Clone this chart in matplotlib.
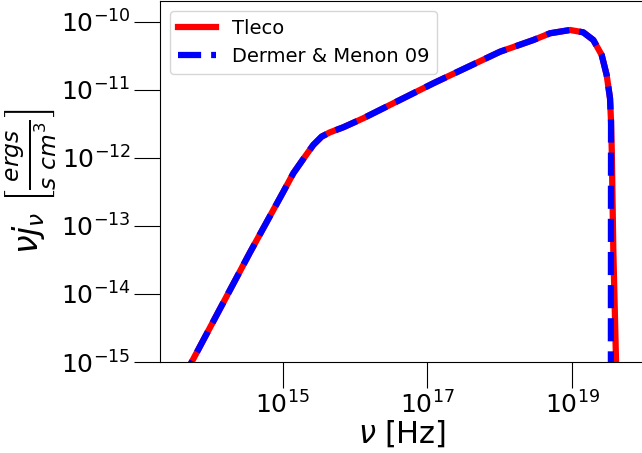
import matplotlib
matplotlib.use('Agg')
import matplotlib.pyplot as plt
from matplotlib.ticker import NullLocator

# values (Hz, erg s^-1 cm^-3)
nu_tleco = [3.98e13, 5.52e13, 3.53e14, 1.019e15, 1.403e15, 2.03e15, 2.65e15,
            3.46e15, 4.51e15, 6.89e15, 1.30e16, 1.21e17, 1.01e18, 2.92e18,
            4.97e18, 9.40e18, 1.43e19, 1.97e19, 2.57e19, 3.01e19, 3.35e19,
            3.46e19, 3.54e19, 3.72e19, 4.06e19, 4.17e19]
nuj_tleco = [5.2e-16, 1.0e-15, 4.07e-14, 3.16e-13, 5.93e-13, 1.04e-12, 1.545e-12,
             2.05e-12, 2.37e-12, 2.81e-12, 3.81e-12, 1.245e-11, 3.62e-11, 5.38e-11,
             6.76e-11, 7.55e-11, 6.98e-11, 5.38e-11, 3.24e-11, 1.65e-11, 7.50e-12,
             3.40e-12, 1.30e-12, 4.43e-14, 1.0e-15, 1.0e-16]

nu_dm = [3.98e13, 5.52e13, 3.53e14, 1.019e15, 1.403e15, 2.03e15, 2.65e15,
         3.46e15, 4.51e15, 6.89e15, 1.30e16, 1.21e17, 1.01e18, 2.92e18,
         4.97e18, 9.40e18, 1.43e19, 1.97e19, 2.57e19, 3.01e19, 3.35e19,
         3.46e19, 3.45e19, 3.44e19]
nuj_dm = [5.2e-16, 1.0e-15, 4.07e-14, 3.16e-13, 5.93e-13, 1.04e-12, 1.545e-12,
          2.05e-12, 2.37e-12, 2.81e-12, 3.81e-12, 1.245e-11, 3.62e-11, 5.38e-11,
          6.76e-11, 7.55e-11, 6.98e-11, 5.38e-11, 3.24e-11, 1.65e-11, 7.50e-12,
          3.40e-12, 1.0e-13, 1.0e-16]

x_ticks = [1e15, 1e17, 1e19]
y_ticks = [1e-15, 1e-14, 1e-13, 1e-12, 1e-11, 1e-10]

fig = plt.figure(figsize=(6.42, 4.53), dpi=100)
# right edge of the axes sits just past the figure edge, as in the reference
ax = fig.add_axes([160 / 642, 91 / 453, 483 / 642, 361 / 453])

ax.plot(nu_tleco, nuj_tleco, color='red', lw=4.5, label='Tleco')
ax.plot(nu_dm, nuj_dm, color='blue', lw=4.5, ls='--', label='Dermer & Menon 09')

ax.set_xscale('log')
ax.set_yscale('log')
ax.set_xlim(10**13.304, 10**19.981)
ax.set_ylim(1e-15, 10**-9.696)
ax.set_xticks(x_ticks)
ax.set_yticks(y_ticks)
ax.xaxis.set_minor_locator(NullLocator())
ax.yaxis.set_minor_locator(NullLocator())
ax.tick_params(which='major', length=19, width=0.8, labelsize=18, pad=2)

ax.set_xlabel(r'$\nu$ [Hz]', fontsize=22, labelpad=0)
ax.set_ylabel(r'$\nu j_{\nu}\ \left[\frac{ergs}{s\ cm^3}\right]$', fontsize=24, labelpad=2)

ax.legend(loc='upper left', fontsize=14)

fig.savefig('out.png', dpi=100)
